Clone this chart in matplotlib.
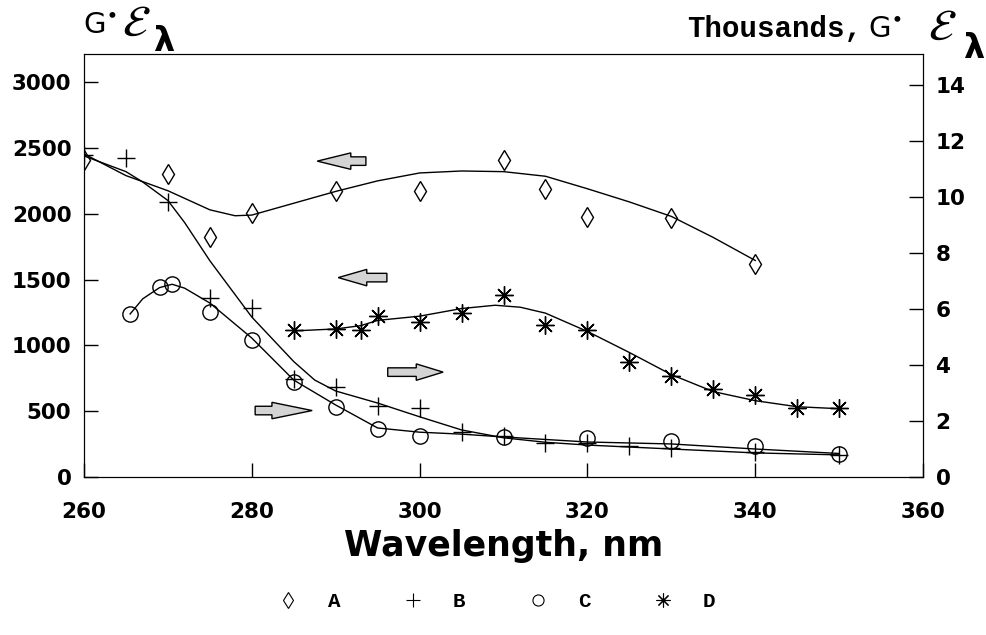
import matplotlib
matplotlib.use('Agg')
import matplotlib.pyplot as plt
from matplotlib.lines import Line2D
from matplotlib.patches import FancyArrow
import numpy as np

# A (diamonds) and D (stars) are read on the left axis,
# B (plus) and C (circles) on the right axis (thousands)
a_x = [260, 270, 275, 280, 290, 300, 310, 315, 320, 330, 340]
a_y = [2410, 2300, 1820, 2005, 2175, 2175, 2410, 2190, 1975, 1965, 1620]
a_fit_x = [260, 265, 270, 275, 278, 280, 285, 290, 295, 300, 305, 310, 315, 320, 325, 330, 335, 340]
a_fit_y = [2455, 2290, 2175, 2030, 1985, 1990, 2080, 2170, 2250, 2310, 2325, 2320, 2285, 2190, 2090, 1980, 1820, 1645]

b_x = [260, 265, 270, 275, 280, 285, 290, 295, 300, 305, 310, 315, 320, 325, 330, 340, 350]
b_y = [11.5, 11.4, 9.8, 6.4, 6.05, 3.5, 3.2, 2.55, 2.45, 1.6, 1.45, 1.2, 1.2, 1.1, 1.03, 0.9, 0.79]
b_fit_x = [260, 265, 267, 270, 272, 275, 280, 285, 287.5, 290, 295, 300, 305, 310, 315, 320, 330, 340, 350]
b_fit_y = [11.46, 10.9, 10.53, 9.87, 9.08, 7.72, 5.71, 4.12, 3.46, 3.07, 2.64, 2.15, 1.68, 1.40, 1.24, 1.14, 1.0, 0.86, 0.79]

c_x = [265.5, 269, 270.5, 275, 280, 285, 290, 295, 300, 310, 320, 330, 340, 350]
c_y = [5.82, 6.79, 6.89, 5.89, 4.89, 3.39, 2.5, 1.71, 1.46, 1.43, 1.39, 1.29, 1.11, 0.82]
c_fit_x = [265.5, 267, 269, 270.5, 272, 275, 280, 285, 290, 295, 300, 305, 310, 320, 330, 340, 350]
c_fit_y = [5.82, 6.36, 6.76, 6.88, 6.74, 6.21, 4.96, 3.46, 2.57, 1.75, 1.6, 1.53, 1.43, 1.25, 1.18, 1.0, 0.84]

d_x = [285, 290, 293, 295, 300, 305, 310, 315, 320, 325, 330, 335, 340, 345, 350]
d_y = [1114, 1122, 1114, 1221, 1178, 1244, 1381, 1152, 1114, 870, 771, 671, 626, 526, 526]
d_fit_x = [285, 290, 293, 295, 300, 305, 309, 312, 315, 320, 325, 330, 335, 340, 345, 350]
d_fit_y = [1110, 1125, 1150, 1190, 1222, 1280, 1305, 1290, 1245, 1106, 946, 778, 649, 580, 534, 519]

legend_labels = ['A', 'B', 'C', 'D']

fig = plt.figure(figsize=(9.87, 6.35), dpi=100)
ax = fig.add_axes([0.0851, 0.2488, 0.8501, 0.6662])
ax2 = ax.twinx()

star = (8, 2, 0)
ax.plot(a_fit_x, a_fit_y, color='black', lw=1)
ax.plot(a_x, a_y, ls='none', marker='d', ms=10, mfc='none', mec='black', mew=1)
ax.plot(d_fit_x, d_fit_y, color='black', lw=1)
ax.plot(d_x, d_y, ls='none', marker=star, ms=13, mec='black', mew=1)
ax2.plot(b_fit_x, b_fit_y, color='black', lw=1)
ax2.plot(b_x, b_y, ls='none', marker='+', ms=13, mec='black', mew=1)
ax2.plot(c_fit_x, c_fit_y, color='black', lw=1)
ax2.plot(c_x, c_y, ls='none', marker='o', ms=11, mfc='none', mec='black', mew=1)

# block arrows: (tail x, tip x, y, head length)
arrows = [(293.6, 287.8, 2400, 4.0),
          (296.1, 290.3, 1515, 3.4),
          (296.2, 302.8, 797, 3.2),
          (280.4, 287.2, 505, 4.8)]
for x0, x1, y, hl in arrows:
    ax.add_patch(FancyArrow(x0, y, x1 - x0, 0, width=65, head_width=125,
                            head_length=hl, length_includes_head=True,
                            facecolor='#d4d4d4', edgecolor='black', lw=1))

ax.set_xlim(260, 360)
ax.set_ylim(0, 3214)
ax2.set_ylim(0, 15.1)
ax.set_xticks([260, 280, 300, 320, 340, 360])
ax.set_yticks(np.arange(0, 3001, 500))
ax2.set_yticks(np.arange(0, 15, 2))
ax.tick_params(direction='in', length=10, width=1, labelsize=15.5, pad=9)
ax.tick_params(axis='x', pad=18)
ax2.tick_params(direction='in', length=10, width=1, labelsize=15.5, pad=9)
for lab in ax.get_xticklabels() + ax.get_yticklabels() + ax2.get_yticklabels():
    lab.set_fontweight('bold')

ax.set_xlabel('Wavelength, nm', fontsize=25, fontweight='bold', labelpad=5)

# axis titles: G* script-E with a dropped bold lambda
def eps_label(x_g, x_e, x_l, base, drop):
    fig.text(x_g / 987, 1 - base / 635, r'G$^{\bullet}$', fontsize=21, va='baseline')
    fig.text(x_e / 987, 1 - (base + 3) / 635, r'$\mathcal{E}$', fontsize=32, va='baseline')
    fig.text(x_l / 987, 1 - drop / 635, r'$\boldsymbol{\lambda}$', fontsize=24, va='baseline')

eps_label(83, 122, 153, 33, 51)
fig.text(687 / 987, 1 - 37 / 635, 'Thousands,', fontsize=21, family='Liberation Mono',
         fontweight='bold', va='baseline')
eps_label(868, 928, 963, 37, 58)

handles = [Line2D([], [], ls='none', marker='d', ms=8, mfc='none', mec='black', mew=0.8),
           Line2D([], [], ls='none', marker='+', ms=10, mec='black', mew=0.8),
           Line2D([], [], ls='none', marker='o', ms=8, mfc='none', mec='black', mew=0.8),
           Line2D([], [], ls='none', marker=star, ms=10, mec='black', mew=0.8)]
leg = fig.legend(handles, legend_labels, loc='center', bbox_to_anchor=(0.503, 0.052), ncol=4,
                 frameon=False, handlelength=1, handletextpad=1.4, columnspacing=3,
                 prop={'family': 'Liberation Mono', 'weight': 'bold', 'size': 15})

fig.savefig('out.png', dpi=100)
